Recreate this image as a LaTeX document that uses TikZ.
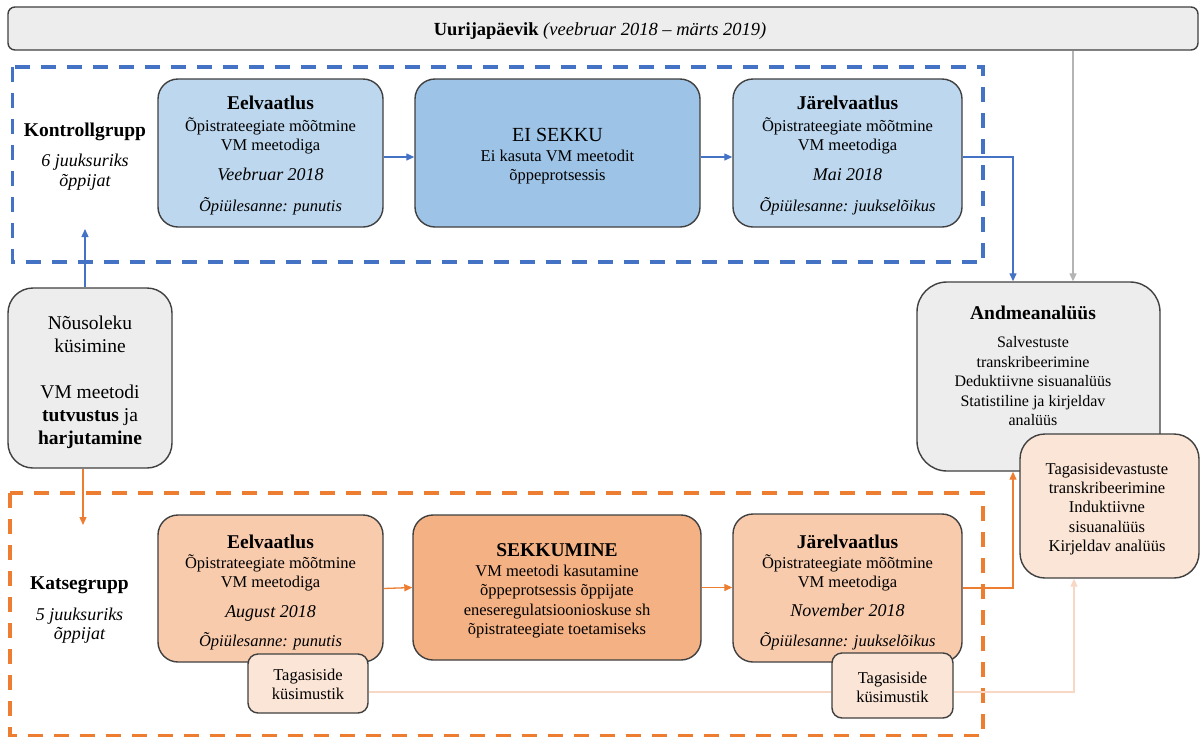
\documentclass[tikz,border=0pt]{standalone}
\usepackage{fontspec}
\setmainfont{Liberation Serif}
\usetikzlibrary{arrows.meta}
\definecolor{bdash}{HTML}{4472C4}
\definecolor{odash}{HTML}{ED7D31}
\definecolor{lblue}{HTML}{BDD7EE}
\definecolor{mblue}{HTML}{9DC3E6}
\definecolor{lorange}{HTML}{F8CBAD}
\definecolor{morange}{HTML}{F4B183}
\definecolor{peach}{HTML}{FBE5D6}
\definecolor{lgray}{HTML}{EDEDED}
\definecolor{bord}{HTML}{404040}
\definecolor{garrow}{HTML}{B4B4B4}
\definecolor{parrow}{HTML}{F8D8C4}
\newcommand\fs[2]{\fontsize{#1}{#2}\selectfont}
\begin{document}
\begin{tikzpicture}[x=1pt,y=-1pt,
  box/.style={draw=bord, line width=1.4pt, rounded corners=20pt, inner sep=0pt},
  txt/.style={align=center, inner sep=0pt, font=\fs{16.5}{19}},
  grpbox/.style={line width=3.5pt, dash pattern=on 15pt off 11pt},
  conn/.style={line width=1.3pt, -{Triangle[length=8pt,width=7pt]}},
]
\useasboundingbox (0,0) rectangle (1200,737);
\fill[white] (0,0) rectangle (1200,737);

% group frames
\draw[grpbox, bdash] (12.5,67) rectangle (983,262);
\draw[grpbox, odash] (10,493) rectangle (983,735.5);

% top bar
\node[box, rounded corners=7pt, fill=lgray, minimum width=1190pt, minimum height=43pt] (top) at (603,28.5) {};
\node[txt, font=\fs{18.5}{20}] (toptext) at (600,31) {\textbf{Uurijapäevik} \textit{(veebruar 2018 – märts 2019)}};

% control group
\node[txt, font=\itshape\fs{18}{20}] (kg) at (85,157) {{\upshape\bfseries\fs{19.5}{22}Kontrollgrupp}\\[10pt] 6 juuksuriks\\ õppijat};
\node[box, fill=lblue, minimum width=225pt, minimum height=148pt] (eb) at (270.5,153) {};
\node[txt] (ebt) at (270.5,155.5)
 {{\bfseries\fs{19.5}{22}Eelvaatlus}\\[2.5pt] Õpistrateegiate mõõtmine\\ VM meetodiga\\[11pt] {\itshape\fs{18}{20}Veebruar 2018}\\[12pt] {\itshape Õpiülesanne: punutis}};
\node[box, fill=mblue, minimum width=285pt, minimum height=148pt] (ei) at (557.5,153) {};
\node[txt, font=\fs{16.5}{19}] (eit) at (557.5,156.5)
 {{\fs{20}{22}EI SEKKU}\\[1pt] Ei kasuta VM meetodit\\ õppeprotsessis};
\node[box, fill=lblue, minimum width=229pt, minimum height=148pt] (jb) at (847.5,153) {};
\node[txt] (jbt) at (847.5,155.5)
 {{\bfseries\fs{19.5}{22}Järelvaatlus}\\[2.5pt] Õpistrateegiate mõõtmine\\ VM meetodiga\\[11pt] {\itshape\fs{18}{20}Mai 2018}\\[12pt] {\itshape Õpiülesanne: juukselõikus}};

% consent
\node[box, fill=lgray, rounded corners=25pt, minimum width=164pt, minimum height=180pt] (nous) at (90,378) {};
\node[txt, font=\fs{19.5}{23}] (noust) at (90,382)
 {Nõusoleku\\ küsimine\\[23pt] VM meetodi\\ \textbf{tutvustus} ja\\ \textbf{harjutamine}};

% analysis
\node[box, fill=lgray, rounded corners=30pt, minimum width=243pt, minimum height=189pt] (an) at (1038.5,376.5) {};
\node[txt, font=\fs{16}{19.5}] (antext) at (1033,366)
 {{\bfseries\fs{19.5}{22}Andmeanalüüs}\\[8.5pt] Salvestuste\\ transkribeerimine\\ Deduktiivne sisuanalüüs\\ Statistiline ja kirjeldav\\ analüüs};
\node[box, fill=peach, rounded corners=25pt, minimum width=179pt, minimum height=144pt] (tg) at (1109.5,506) {};
\node[txt, font=\fs{16.5}{19.25}] (tgt) at (1107,509)
 {Tagasisidevastuste\\ transkribeerimine\\ Induktiivne\\ sisuanalüüs\\ Kirjeldav analüüs};

% experimental group
\node[txt, font=\itshape\fs{18}{19}] (katse) at (79.5,610) {{\upshape\bfseries\fs{19.5}{22}Katsegrupp}\\[12pt] 5 juuksuriks\\ õppijat};
\node[box, fill=lorange, minimum width=225pt, minimum height=147pt] (eo) at (270.5,588.5) {};
\node[txt] (eot) at (270.5,592.5)
 {{\bfseries\fs{19.5}{22}Eelvaatlus}\\[1pt] Õpistrateegiate mõõtmine\\ VM meetodiga\\[10.5pt] {\itshape\fs{18}{20}August 2018}\\[10.5pt] {\itshape Õpiülesanne: punutis}};
\node[box, fill=morange, minimum width=288pt, minimum height=145pt] (sek) at (557,587.5) {};
\node[txt, font=\fs{16.5}{19.5}] (sekt) at (557,591)
 {{\bfseries\fs{19.5}{22}SEKKUMINE}\\ VM meetodi kasutamine\\ õppeprotsessis õppijate\\ eneseregulatsioonioskuse sh\\ õpistrateegiate toetamiseks};
\node[box, fill=lorange, minimum width=229pt, minimum height=148pt] (jo) at (847.5,588) {};
\node[txt] (jot) at (847.5,592)
 {{\bfseries\fs{19.5}{22}Järelvaatlus}\\[1pt] Õpistrateegiate mõõtmine\\ VM meetodiga\\[10.5pt] {\itshape\fs{18}{20}November 2018}\\[10.5pt] {\itshape Õpiülesanne: juukselõikus}};

% feedback questionnaires
\node[box, fill=peach, rounded corners=10pt, minimum width=120pt, minimum height=59pt] (tk1) at (308,683.5) {};
\node[txt] (tk1t) at (308,684.5) {Tagasiside\\ küsimustik};
\node[box, fill=peach, rounded corners=10pt, minimum width=121pt, minimum height=65pt] (tk2) at (892.5,685.5) {};
\node[txt] (tk2t) at (892.5,687.5) {Tagasiside\\ küsimustik};

% helper coordinates
\coordinate (kgtip) at (85,229);
\coordinate (nousup) at (85,0);
\coordinate (katsetip) at (83,525);
\coordinate (rx) at (1013,0);
\coordinate (gx) at (1073,0);
\coordinate (fb) at (1074,692);

% connectors
\draw[conn, bdash] ([yshift=-4pt]eb.east) -- ([yshift=-4pt]ei.west);
\draw[conn, bdash] ([yshift=-4pt]ei.east) -- ([yshift=-4pt]jb.east -| jb.west);
\draw[conn, bdash] ([yshift=-4pt]jb.east) -| (an.north -| rx);
\draw[conn, garrow] (top.south -| gx) -- (an.north -| gx);
\draw[conn, bdash] (nous.north -| nousup) -- (kgtip);
\draw[conn, odash] (nous.south -| katsetip) -- (katsetip);
\draw[conn, odash] (eo.east) -- (sek.west);
\draw[conn, odash] (sek.east) -- (sek.east -| jo.west);
\draw[conn, odash] (jo.east) -| (an.south -| rx);
\draw[line width=1.3pt, parrow] (tk1.east |- fb) -- (tk2.west |- fb);
\draw[conn, parrow] (tk2.east |- fb) -| (tg.south -| fb);
\end{tikzpicture}
\end{document}
